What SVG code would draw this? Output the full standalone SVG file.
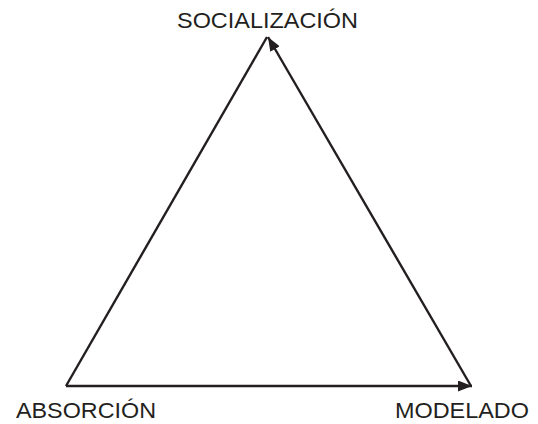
<svg xmlns="http://www.w3.org/2000/svg" width="538" height="424" viewBox="0 0 538 424">
<style>
.lbl{font-family:"Liberation Sans",Arial,sans-serif;font-size:22px;fill:#231f20}
.edge{stroke:#231f20;stroke-width:2.4;fill:none}
</style>
<defs>
<marker id="ah" viewBox="0 0 14 11" refX="14" refY="5.5" markerWidth="14" markerHeight="11" markerUnits="userSpaceOnUse" orient="auto">
<path d="M0,0 L14,5.5 L0,11 z" fill="#231f20"/>
</marker>
</defs>
<rect width="538" height="424" fill="#fff"/>
<g id="connectors">
<line class="edge" x1="267" y1="37" x2="66" y2="386"/>
<line class="edge" x1="66" y1="386" x2="472" y2="386" marker-end="url(#ah)"/>
<line class="edge" x1="471" y1="386" x2="268" y2="37" marker-end="url(#ah)"/>
</g>
<g id="socializacion"><text class="lbl" x="177" y="28" textLength="181" lengthAdjust="spacingAndGlyphs">SOCIALIZACIÓN</text></g>
<g id="absorcion"><text class="lbl" x="16" y="418" textLength="140" lengthAdjust="spacingAndGlyphs">ABSORCIÓN</text></g>
<g id="modelado"><text class="lbl" x="395" y="418" textLength="134" lengthAdjust="spacingAndGlyphs">MODELADO</text></g>
</svg>
